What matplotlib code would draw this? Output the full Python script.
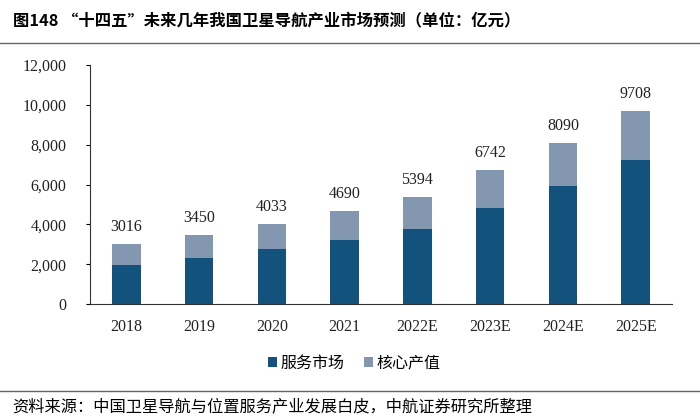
import matplotlib.pyplot as plt
from matplotlib.lines import Line2D

plt.rcParams['font.family'] = ['Liberation Serif', 'Noto Sans CJK SC']

years = ['2018', '2019', '2020', '2021', '2022E', '2023E', '2024E', '2025E']
totals = [3016, 3450, 4033, 4690, 5394, 6742, 8090, 9708]
service = [1950, 2300, 2780, 3220, 3780, 4800, 5900, 7230]
core = [t - s for t, s in zip(totals, service)]

c_dark = '#14527e'
c_light = '#8497b0'

fig = plt.figure(figsize=(7, 4.19), dpi=100)
ax = fig.add_axes([90 / 700, 1 - 304 / 419, 582 / 700, 239 / 419])

x = range(len(years))
ax.bar(x, service, width=0.39, color=c_dark, label='服务市场')
ax.bar(x, core, width=0.39, bottom=service, color=c_light, label='核心产值')
for i, t in enumerate(totals):
    ax.text(i, t + 450, str(t), ha='center', va='bottom', fontsize=11.5, color='#222222')

ax.set_xlim(-0.5, 7.5)
ax.set_ylim(0, 12000)
ax.set_yticks(range(0, 12001, 2000))
ax.set_yticklabels([f'{v:,}' for v in range(0, 12001, 2000)])
ax.set_xticks(list(x))
ax.set_xticklabels(years)
ax.tick_params(axis='x', length=0, pad=11, labelsize=11.5, labelcolor='#222222')
ax.tick_params(axis='y', direction='out', length=3, pad=14, labelsize=11.5, labelcolor='#222222')
for s in ['top', 'right']:
    ax.spines[s].set_visible(False)
for s in ['left', 'bottom']:
    ax.spines[s].set_color('#333333')

fig.legend(loc='center', bbox_to_anchor=(354 / 700, 1 - 363 / 419), ncol=2, frameon=False,
           handlelength=0.6, handleheight=0.6, handletextpad=0.2, columnspacing=1.2,
           prop={'family': 'Noto Sans CJK SC', 'size': 11.5})

fig.text(13 / 700, 1 - 20 / 419, '图148 “十四五”未来几年我国卫星导航产业市场预测（单位：亿元）',
         fontsize=11.75, fontweight='bold', family=['Noto Sans CJK SC'], va='center', ha='left')
fig.add_artist(Line2D([0, 1], [1 - 43 / 419] * 2, color='#666666', lw=1))
fig.add_artist(Line2D([0, 1], [1 - 391 / 419] * 2, color='#666666', lw=1))
fig.text(12 / 700, 1 - 407 / 419, '资料来源：中国卫星导航与位置服务产业发展白皮，中航证券研究所整理',
         fontsize=11.7, family=['Noto Sans CJK SC'], va='center', ha='left')

fig.savefig('out.png', dpi=100)
